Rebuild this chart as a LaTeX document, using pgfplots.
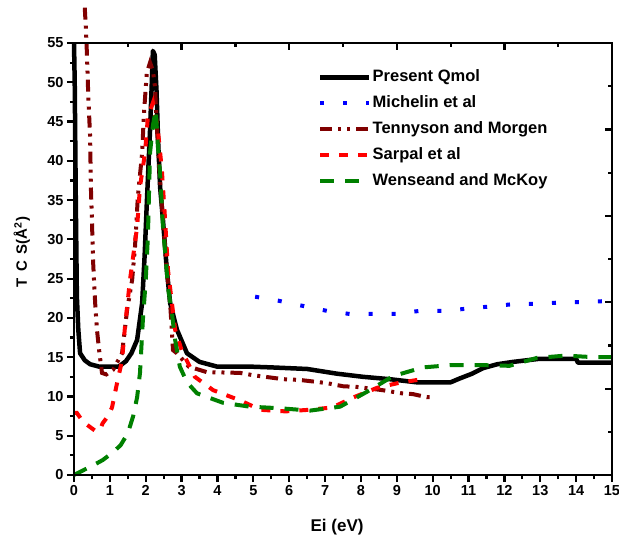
\documentclass[border=0pt]{standalone}
\usepackage{pgfplots}
\pgfplotsset{compat=1.18}
\usepackage{fontspec}
\setmainfont{Liberation Sans}
\definecolor{dred}{HTML}{800000}
\definecolor{dgreen}{HTML}{008000}
\begin{document}
\begin{tikzpicture}
\begin{axis}[
  scale only axis, width=538pt, height=432pt,
  xmin=0, xmax=15, ymin=0, ymax=55,
  clip=false,
  axis line style={line width=2.5pt},
  every tick/.style={line width=2.2pt, black},
  xtick={0,1,...,15}, minor xtick={0.5,1.5,...,14.5},
  ytick={0,5,...,55}, minor ytick={2.5,7.5,...,52.5},
  xtick pos=bottom, ytick pos=left,
  tick align=outside,
  major tick length=7pt, minor tick length=4pt,
  /pgf/number format/assume math mode=true,
  tick label style={font=\fontsize{14.5}{16}\selectfont\bfseries},
  xlabel={Ei (eV)}, ylabel={T\, C\, S(Å\textsuperscript{2})},
  xlabel style={font=\fontsize{17}{20}\selectfont\bfseries, at={(rel axis cs:0.489,-0.12)}, anchor=center},
  ylabel style={font=\fontsize{15}{18}\selectfont\bfseries, at={(rel axis cs:-0.097,0.516)}, anchor=center},
  legend cell align=left,
  legend image code/.code={\draw[#1] (0pt,0pt) -- (49pt,0pt);},
  legend style={at={(rel axis cs:0.4535,0.942)}, anchor=north west, draw=none, fill=none,
    inner sep=0pt, row sep=8pt, font=\fontsize{16.5}{18}\selectfont\bfseries,
    nodes={inner sep=1pt, text height=12pt, text depth=4pt}},
]
\addplot[black, line width=4.5pt, line join=round] coordinates {
(0,55)(0.02,50)(0.05,35)(0.08,22.7)(0.12,18.5)(0.17,15.5)(0.3,14.6)(0.45,14.1)(0.7,13.8)(1.25,13.8)(1.45,14.5)(1.6,15.5)(1.76,17.2)(1.9,21.9)(1.97,28)(2.03,34.6)(2.12,43.9)(2.17,50)(2.2,54)(2.25,53.5)(2.3,49)(2.35,42)(2.4,36.7)(2.48,32.5)(2.59,26)(2.68,21.9)(2.87,18.5)(3.15,15.5)(3.5,14.4)(3.99,13.8)(4.9,13.8)(5.5,13.7)(6.5,13.5)(7.33,12.9)(8.06,12.5)(8.8,12.2)(9.56,11.8)(10.5,11.8)(10.76,12.3)(11.1,12.9)(11.4,13.6)(11.8,14.1)(12.24,14.4)(12.99,14.8)(14.0,14.8)(14.05,14.3)(15,14.3)
};
\addlegendentry{Present Qmol}
\addplot[blue, line width=4pt, dash pattern=on 4pt off 19pt] coordinates {
(5.05,22.7)(5.69,22.2)(6.41,21.5)(7.05,20.9)(7.69,20.5)(8.33,20.5)(8.98,20.5)(9.64,20.9)(10.34,20.9)(11.0,21.2)(11.7,21.5)(12.35,21.8)(13.0,21.8)(13.66,22)(14.33,22)(14.95,22.2)
};
\addlegendentry{Michelin et al}
\addplot[dred, line width=4pt, dash pattern=on 12pt off 6pt on 3pt off 6pt on 3pt off 6pt] coordinates {
(0.3,59.5)(0.33,57)(0.36,53.7)(0.4,48)(0.45,43)(0.47,36.7)(0.5,32.5)(0.53,27.4)(0.59,21.9)(0.64,18.5)(0.7,15.9)(0.78,13)(0.9,12.8)(1.09,13.4)(1.34,15.5)(1.48,21)(1.62,24.8)(1.7,29)(1.78,35.4)(1.9,41)(1.95,46)(2.03,51.2)(2.12,52.5)(2.2,51.5)(2.26,49.4)(2.3,45)(2.4,37.5)(2.48,32.5)(2.59,26)(2.68,21.9)(2.76,15.9)(2.87,15.5)(3.2,13.8)(3.7,13.1)(4.63,13)(5.0,12.7)(5.83,12.2)(6.3,12.1)(7.05,11.7)(7.5,11.3)(7.92,11.2)(8.6,10.8)(9.14,10.4)(9.45,10.3)(9.84,9.9)(10,9.9)
};
\addlegendentry{Tennyson and Morgen}
\addplot[red, line width=4pt, dash pattern=on 9pt off 10pt] coordinates {
(0,7.9)(0.08,7.9)(0.25,6.8)(0.45,6.1)(0.6,5.6)(0.72,5.7)(0.8,6.6)(0.95,7.5)(1.06,8.6)(1.2,11.7)(1.34,14.6)(1.42,18.8)(1.56,24.8)(1.76,31.6)(1.84,36.7)(1.98,41)(2.06,45.6)(2.2,47.4)(2.34,43.9)(2.45,38.8)(2.54,32.5)(2.62,26.1)(2.73,21.9)(2.82,18.5)(3.0,15.9)(3.37,12.5)(3.88,10.8)(4.63,9.5)(5.2,8.3)(5.9,8.1)(6.55,8.3)(7.2,8.6)(7.8,9.9)(8.45,11.1)(9.03,11.7)(9.7,12.2)
};
\addlegendentry{Sarpal et al}
\addplot[dgreen, line width=4pt, dash pattern=on 14pt off 11pt] coordinates {
(0,0)(0.3,0.7)(0.6,1.4)(0.8,1.9)(1.09,2.9)(1.3,3.8)(1.5,5.3)(1.65,7.5)(1.76,9.9)(1.84,13)(1.92,19.7)(2.0,24.8)(2.06,30.3)(2.12,41)(2.2,44.5)(2.28,46.5)(2.34,41.8)(2.4,38.4)(2.48,31.6)(2.56,27.4)(2.62,23.9)(2.73,20.6)(2.82,17.2)(2.95,13.8)(3.15,11.8)(3.43,10.4)(4.15,9.2)(4.9,8.7)(5.74,8.5)(6.58,8.2)(7.42,8.7)(8.17,10.6)(8.9,12.6)(9.73,13.7)(10.54,14.0)(11.3,14)(12.14,13.9)(12.9,14.9)(13.7,15.2)(14.5,15.0)(15,15)
};
\addlegendentry{Wenseand and McKoy}
\end{axis}
\begin{axis}[
  scale only axis, width=538pt, height=432pt,
  xmin=0, xmax=15, ymin=0, ymax=55,
  axis line style={line width=2.5pt},
  every tick/.style={line width=2.2pt, black},
  xtick={0,3,...,15}, minor xtick={1.5,4.5,...,13.5},
  ytick={0,11,...,55}, minor ytick={5.5,16.5,...,49.5},
  xtick pos=top, ytick pos=right,
  tick align=inside,
  major tick length=7pt, minor tick length=4pt,
  xticklabels={}, yticklabels={},
]
\end{axis}
\pgfresetboundingbox
\path[use as bounding box] (-74pt,-64pt) rectangle (545pt,475pt);
\end{tikzpicture}
\end{document}
